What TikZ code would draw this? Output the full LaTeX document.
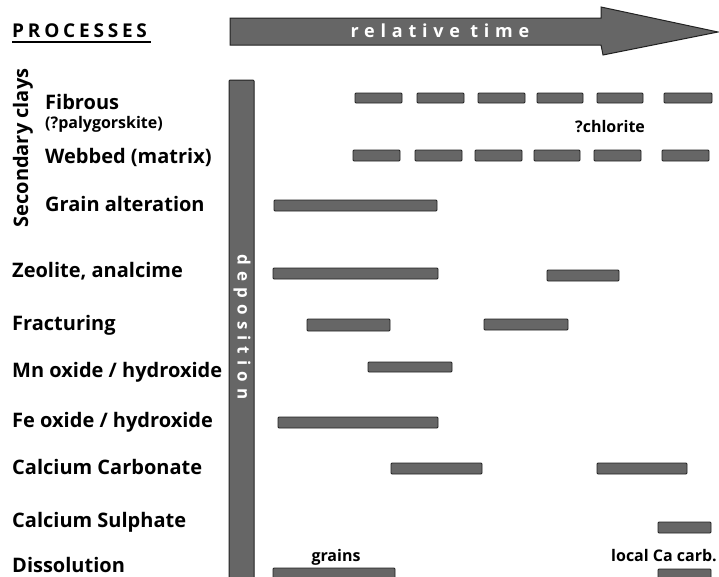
\documentclass[tikz,border=0pt]{standalone}
\usepackage{fontspec}
\setmainfont{Open Sans}
\definecolor{barfill}{HTML}{666666}
\definecolor{bardraw}{HTML}{222222}
\tikzset{
  bar/.style={fill=barfill, draw=bardraw, line width=0.8pt, rounded corners=1pt},
  lab/.style={anchor=base west, inner sep=0pt, font=\bfseries\fontsize{20}{22}\selectfont},
  sublab/.style={anchor=base west, inner sep=0pt, font=\bfseries\fontsize{16}{18}\selectfont},
  note/.style={anchor=base, inner sep=0pt, font=\bfseries\fontsize{16}{18}\selectfont},
}
\begin{document}
\begin{tikzpicture}[x=1pt,y=-1pt]
\useasboundingbox (0,0) rectangle (719,576);
% title
\node[anchor=base west, inner sep=0pt, font=\bfseries\fontsize{19}{22}\selectfont\addfontfeatures{LetterSpace=20}] (title) at (12,37) {PROCESSES};
\draw[line width=1.2pt] (12,42) -- (151,42);
% time arrow
\draw[bar, rounded corners=0pt, line width=1pt] (230,18) -- (601,18) -- (601,7) -- (718,32) -- (603,55) -- (601,45) -- (230,45) -- cycle;
\node[anchor=center, inner sep=0pt, text=white, font=\bfseries\fontsize{18}{20}\selectfont\addfontfeatures{LetterSpace=32}] (time) at (440,31) {relative time};
% deposition bar
\draw[bar, line width=1pt] (229,80) rectangle (254,585);
\node[rotate=-90, anchor=center, inner sep=0pt, text=white, font=\bfseries\fontsize{17}{20}\selectfont\addfontfeatures{LetterSpace=36}] (dep) at (242,327) {deposition};
% left labels
\node[rotate=90, anchor=base, inner sep=0pt, font=\bfseries\fontsize{20}{22}\selectfont] (sc) at (28,148) {Secondary clays};
\node[lab] (fib) at (45,109) {Fibrous};
\node[sublab] (paly) at (45,128) {(?palygorskite)};
\node[lab] (web) at (45,163) {Webbed (matrix)};
\node[lab] (grain) at (45,211) {Grain alteration};
\node[lab] (zeo) at (12,277) {Zeolite, analcime};
\node[lab] (frac) at (12,330) {Fracturing};
\node[lab] (mn) at (12,377) {Mn oxide / hydroxide};
\node[lab] (fe) at (12,427) {Fe oxide / hydroxide};
\node[lab] (cc) at (12,474) {Calcium Carbonate};
\node[lab] (cs) at (12,527) {Calcium Sulphate};
\node[lab] (dis) at (12,572) {Dissolution};
% fibrous dashes
\foreach \a/\b in {355/402,417/464,478/525,537/583,597/643,664/712}
  \draw[bar] (\a,93) rectangle (\b,103);
\node[note, anchor=base west] (chl) at (575,132) {?chlorite};
% webbed dashes
\foreach \a/\b in {353/400,415/462,475/522,534/580,594/641,662/709}
  \draw[bar] (\a,150) rectangle (\b,161);
% grain alteration
\draw[bar] (274,200) rectangle (437,211);
% zeolite
\draw[bar] (273,268) rectangle (438,279);
\draw[bar] (547,270) rectangle (619,281);
% fracturing
\draw[bar] (307,319) rectangle (390,331);
\draw[bar] (484,319) rectangle (568,330);
% Mn
\draw[bar] (368,362) rectangle (452,372);
% Fe
\draw[bar] (278,417) rectangle (438,428);
% Ca carbonate
\draw[bar] (391,463) rectangle (482,474);
\draw[bar] (597,463) rectangle (687,474);
% Ca sulphate
\draw[bar] (658,522) rectangle (711,533);
% dissolution
\draw[bar] (273,568) rectangle (395,582);
\draw[bar] (658,569) rectangle (711,582);
\node[note] (gr) at (336,561) {grains};
\node[note, anchor=base east] (loc) at (717,561) {local Ca carb.};
\end{tikzpicture}
\end{document}
